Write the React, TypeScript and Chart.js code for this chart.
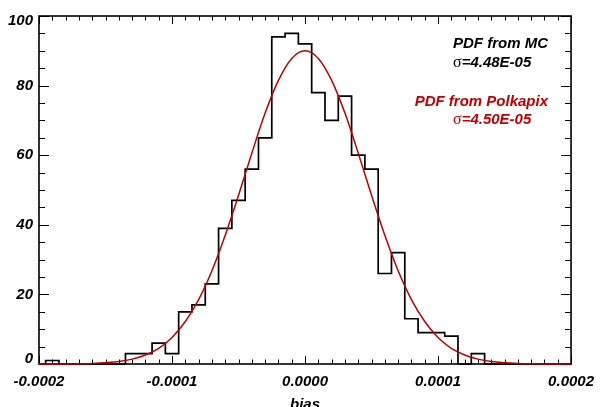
import React, { useEffect, useRef } from 'react';
import { Chart, registerables } from 'chart.js';

Chart.register(...registerables);

// Bin centres (bias), width 1e-5
const binCenters = [
  -0.0002, -0.00019, -0.00018, -0.00017, -0.00016, -0.00015, -0.00014, -0.00013, -0.00012, -0.00011,
  -0.0001, -0.00009, -0.00008, -0.00007, -0.00006, -0.00005, -0.00004, -0.00003, -0.00002, -0.00001,
  0,
  0.00001, 0.00002, 0.00003, 0.00004, 0.00005, 0.00006, 0.00007, 0.00008, 0.00009, 0.0001,
  0.00011, 0.00012, 0.00013, 0.00014, 0.00015, 0.00016, 0.00017, 0.00018, 0.00019, 0.0002,
];

// Histogram counts (PDF from MC)
const mcCounts = [
  0, 1, 0, 0, 0, 0, 0, 3, 3, 6, 3, 15, 17, 23, 39, 47, 56, 65, 94, 95,
  92,
  78, 70, 77, 60, 56, 26, 32, 13, 9, 9, 8, 0, 3, 0, 0, 0, 0, 0, 0, 0,
];

// Smooth curve (PDF from Polkapix), sampled at the bin centres
const polkapixCurve = [
  0.0, 0.01, 0.03, 0.07, 0.16, 0.35, 0.7, 1.4, 2.6, 4.5, 7.6, 12.2, 18.5, 26.8, 37.0, 48.5, 60.6, 72.1, 81.5, 87.8,
  90.0,
  87.8, 81.5, 72.1, 60.6, 48.5, 37.0, 26.8, 18.5, 12.2, 7.6, 4.5, 2.6, 1.4, 0.7, 0.35, 0.16, 0.07, 0.03, 0.01, 0.0,
];

const xTickValues = [-0.0002, -0.0001, 0, 0.0001, 0.0002];
const xTickLabels = ['-0.0002', '-0.0001', '0.0000', '0.0001', '0.0002'];
const yTickValues = [0, 20, 40, 60, 80, 100];
const yTickLabels = ['0', '20', '40', '60', '80', '100'];

const legendMC = ['PDF from MC', '=4.48E-05'];
const legendPolka = ['PDF from Polkapix', '=4.50E-05'];
const xTitle = 'bias';

const RED = '#c00000';
const SANS = '"Liberation Sans", Arial, sans-serif';
const FONT = `italic bold 15px ${SANS}`;

const framePlugin = {
  id: 'idlFrame',
  beforeDatasetsDraw(chart: any) {
    const { ctx, chartArea } = chart;
    const xs = chart.scales.x;
    const ys = chart.scales.y;
    const { left, right, top, bottom } = chartArea;
    ctx.save();
    ctx.strokeStyle = '#000';
    ctx.lineWidth = 1;
    for (let i = -20; i <= 20; i++) {
      const px = Math.round(xs.getPixelForValue(i * 1e-5)) + 0.5;
      const len = i % 10 === 0 ? 8 : 4.5;
      ctx.beginPath();
      ctx.moveTo(px, bottom);
      ctx.lineTo(px, bottom - len);
      ctx.moveTo(px, top);
      ctx.lineTo(px, top + len);
      ctx.stroke();
    }
    for (let v = 0; v <= 100; v += 5) {
      const py = Math.round(ys.getPixelForValue(v)) + 0.5;
      const len = v % 20 === 0 ? 10 : 6;
      ctx.beginPath();
      ctx.moveTo(left, py);
      ctx.lineTo(left + len, py);
      ctx.moveTo(right, py);
      ctx.lineTo(right - len, py);
      ctx.stroke();
    }
    ctx.lineWidth = 1.6;
    ctx.strokeRect(left, top, right - left, bottom - top);
    ctx.restore();
  },
  afterDraw(chart: any) {
    const { ctx, chartArea } = chart;
    ctx.save();
    ctx.font = FONT;
    ctx.textBaseline = 'middle';

    const drawSigma = (x: number, y: number, rest: string, color: string) => {
      ctx.fillStyle = color;
      ctx.textAlign = 'left';
      ctx.font = `16px "Liberation Serif", "DejaVu Serif", serif`;
      ctx.fillText('σ', x, y);
      const w = ctx.measureText('σ').width;
      ctx.font = FONT;
      ctx.fillText(rest, x + w, y);
    };

    ctx.fillStyle = '#000';
    ctx.textAlign = 'right';
    ctx.fillText(legendMC[0], 548, 44);
    drawSigma(453, 63, legendMC[1], '#000');

    ctx.fillStyle = RED;
    ctx.textAlign = 'right';
    ctx.fillText(legendPolka[0], 548, 101.5);
    drawSigma(453, 120, legendPolka[1], RED);

    ctx.fillStyle = '#000';
    ctx.textAlign = 'center';
    ctx.textBaseline = 'alphabetic';
    ctx.fillText(xTitle, (chartArea.left + chartArea.right) / 2, 409);
    ctx.restore();
  },
};

export default function App() {
  const ref = useRef<HTMLCanvasElement | null>(null);

  useEffect(() => {
    if (!ref.current) return;
    const hist = binCenters.map((x, i) => ({ x, y: mcCounts[i] }));
    const curve = binCenters.map((x, i) => ({ x, y: polkapixCurve[i] }));

    const chart = new Chart(ref.current, {
      type: 'line',
      data: {
        datasets: [
          {
            label: 'PDF from Polkapix',
            data: curve,
            borderColor: RED,
            borderWidth: 1.5,
            pointRadius: 0,
            fill: false,
            clip: 4,
            cubicInterpolationMode: 'monotone',
          },
          {
            label: 'PDF from MC',
            data: hist,
            borderColor: '#000',
            borderWidth: 1.7,
            pointRadius: 0,
            fill: false,
            clip: 4,
            stepped: 'middle',
          },
        ],
      },
      options: {
        animation: false,
        responsive: false,
        devicePixelRatio: 1,
        events: [],
        layout: { padding: { left: 0, top: 14, right: 26, bottom: 0 } },
        plugins: {
          legend: { display: false },
          tooltip: { enabled: false },
          title: { display: false },
        },
        scales: {
          x: {
            type: 'linear',
            min: -0.0002,
            max: 0.0002,
            grid: { display: false, drawTicks: false },
            border: { display: false },
            afterBuildTicks: (scale: any) => {
              scale.ticks = xTickValues.map((value) => ({ value }));
            },
            afterFit: (scale: any) => {
              scale.height = 43;
            },
            ticks: {
              autoSkip: false,
              maxRotation: 0,
              padding: 9,
              color: '#000',
              font: { family: SANS, size: 15, style: 'italic', weight: 'bold' },
              callback: (value: any) => {
                const i = xTickValues.findIndex((v) => Math.abs(v - value) < 1e-9);
                return i >= 0 ? xTickLabels[i] : '';
              },
            },
          },
          y: {
            type: 'linear',
            min: 0,
            max: 100,
            grid: { display: false, drawTicks: false },
            border: { display: false },
            afterBuildTicks: (scale: any) => {
              scale.ticks = yTickValues.map((value) => ({ value }));
            },
            afterFit: (scale: any) => {
              scale.width = 39;
            },
            ticks: {
              autoSkip: false,
              padding: 6,
              color: '#000',
              font: { family: SANS, size: 15, style: 'italic', weight: 'bold', lineHeight: '10px' },
              callback: (value: any) => {
                const i = yTickValues.indexOf(value);
                const label = i >= 0 ? yTickLabels[i] : '';
                if (value === 100) return ['', label];
                if (value === 0) return [label, ''];
                return label;
              },
            },
          },
        },
      },
      plugins: [framePlugin],
    } as any);

    return () => chart.destroy();
  }, []);

  return (
    <div style={{ position: 'fixed', left: 0, top: 0, width: 603, height: 407, background: '#fff' }}>
      <canvas ref={ref} width={603} height={407} style={{ display: 'block', width: 603, height: 407 }} />
    </div>
  );
}
